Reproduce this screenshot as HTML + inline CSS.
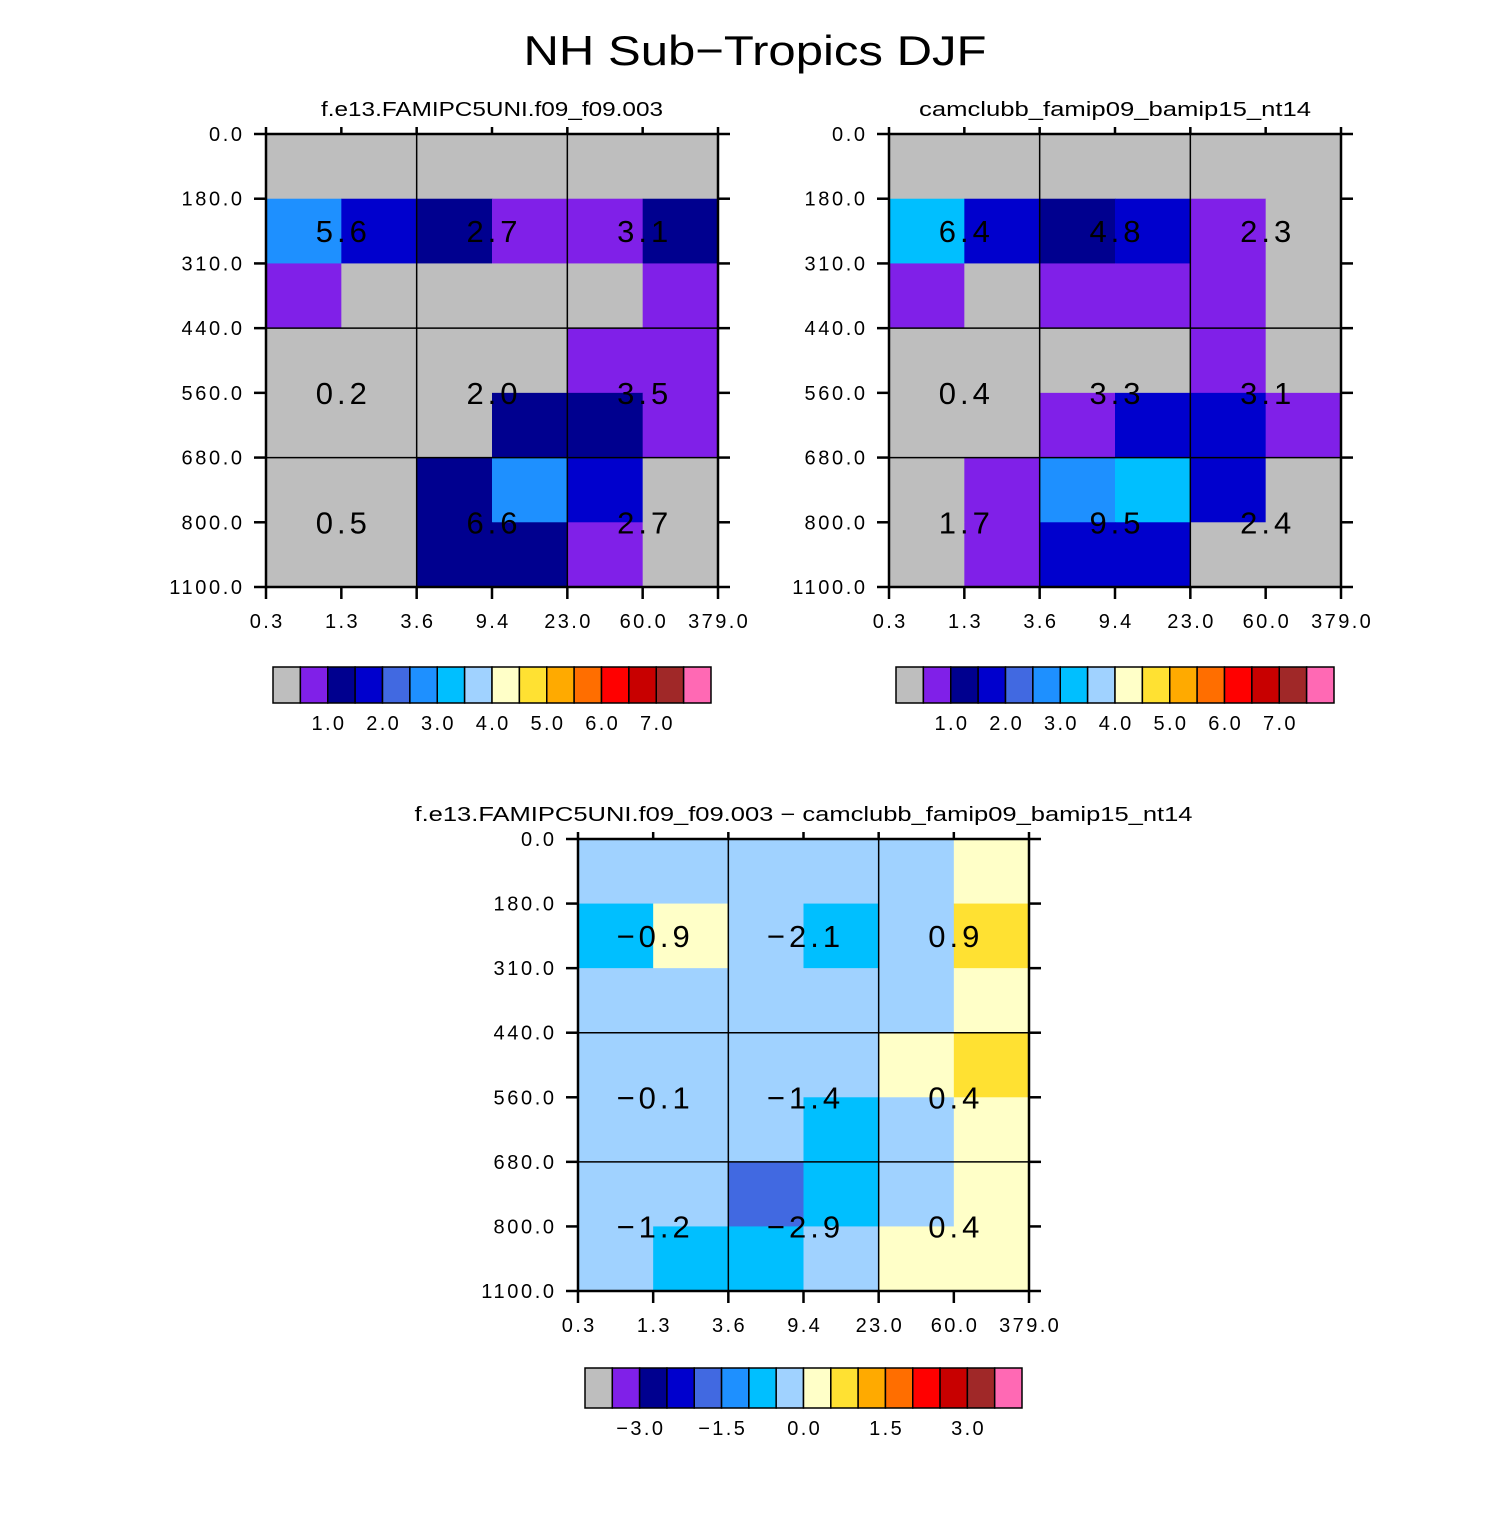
<!DOCTYPE html>
<html><head><meta charset="utf-8">
<style>
html,body{margin:0;padding:0;background:#fff;}
svg text{font-family:"Liberation Sans",sans-serif;}
</style></head>
<body>
<svg id="fig" width="1510" height="1510" viewBox="0 0 1510 1510" xmlns="http://www.w3.org/2000/svg">
<rect width="1510" height="1510" fill="#fff"/>
<text x="755" y="65" font-size="42" text-anchor="middle" fill="#000" textLength="463" lengthAdjust="spacingAndGlyphs">NH Sub−Tropics DJF</text>
</svg>
<script>
const palette = ["#BEBEBE","#8020E8","#00008F","#0000CD","#4169E1","#1E90FF","#00BFFF","#A0D2FF","#FFFFC8","#FFE132","#FFAA00","#FF6E00","#FF0000","#C80000","#A02828","#FF69B4"];
const xTicks = ["0.3","1.3","3.6","9.4","23.0","60.0","379.0"];
const yTicks = ["0.0","180.0","310.0","440.0","560.0","680.0","800.0","1100.0"];
const cells1 = [
 [0,0,0,0,0,0],
 [5,3,2,1,1,2],
 [1,0,0,0,0,1],
 [0,0,0,0,1,1],
 [0,0,0,2,2,1],
 [0,0,2,5,3,0],
 [0,0,2,2,1,0]];
const cells2 = [
 [0,0,0,0,0,0],
 [6,3,2,3,1,0],
 [1,0,1,1,1,0],
 [0,0,0,0,1,0],
 [0,0,1,3,3,1],
 [0,1,5,6,3,0],
 [0,1,3,3,0,0]];
const cells3 = [
 [7,7,7,7,7,8],
 [6,8,7,6,7,9],
 [7,7,7,7,7,8],
 [7,7,7,7,8,9],
 [7,7,7,6,7,8],
 [7,7,4,6,7,8],
 [7,6,6,7,8,8]];
const vals1 = ["5.6","2.7","3.1","0.2","2.0","3.5","0.5","6.6","2.7"];
const vals2 = ["6.4","4.8","2.3","0.4","3.3","3.1","1.7","9.5","2.4"];
const vals3 = ["−0.9","−2.1","0.9","−0.1","−1.4","0.4","−1.2","−2.9","0.4"];
const cbLabels1 = ["1.0","2.0","3.0","4.0","5.0","6.0","7.0"];
const cbLabels3 = ["−3.0","−1.5","0.0","1.5","3.0"];

const svg = document.getElementById('fig');
const NS = "http://www.w3.org/2000/svg";
function mk(tag, attrs, parent){
  const e = document.createElementNS(NS, tag);
  for (const k in attrs) e.setAttribute(k, attrs[k]);
  (parent||svg).appendChild(e); return e;
}
function panel(x0,y0,W,H,cells,vals,sub,subLen,name){
  const g = mk('g',{});
  
  
  const cw = W/6, rh = H/7;
  const xs = i => x0 + i*cw, ys = j => y0 + j*rh;
  cells.forEach((row,j)=>row.forEach((c,i)=>{
    const r = mk('rect',{x:xs(i),y:ys(j),width:cw+0.5,height:rh+0.5,fill:palette[c]},g);
    
    
  }));
  [2,4].forEach(i=>mk('line',{x1:xs(i),y1:y0,x2:xs(i),y2:y0+H,stroke:'#000','stroke-width':1.5},g));
  [3,5].forEach(j=>mk('line',{x1:x0-12,y1:ys(j),x2:x0+W+12,y2:ys(j),stroke:'#000','stroke-width':1.5},g));
  mk('rect',{x:x0,y:y0,width:W,height:H,fill:'none',stroke:'#000','stroke-width':2.5},g);
  xTicks.forEach((t,i)=>{
    mk('line',{x1:xs(i),y1:y0+H,x2:xs(i),y2:y0+H+12,stroke:'#000','stroke-width':2.5},g);
    mk('line',{x1:xs(i),y1:y0,x2:xs(i),y2:y0-7,stroke:'#000','stroke-width':2.5},g);
    const tx = mk('text',{x:xs(i)+1.2,y:y0+H+41,'font-size':20,'letter-spacing':2.4,'text-anchor':'middle'},g);
    
    
    tx.textContent = t;
  });
  yTicks.forEach((t,j)=>{
    mk('line',{x1:x0-12,y1:ys(j),x2:x0,y2:ys(j),stroke:'#000','stroke-width':2.5},g);
    mk('line',{x1:x0+W,y1:ys(j),x2:x0+W+12,y2:ys(j),stroke:'#000','stroke-width':2.5},g);
    const ty = mk('text',{x:x0-24+2.6,y:ys(j)+7,'font-size':20,'letter-spacing':2.6,'text-anchor':'end'},g);
    
    
    ty.textContent = t;
  });
  const rowC = [(ys(1)+ys(2))/2, ys(4), ys(6)];
  vals.forEach((v,k)=>{
    const r = Math.floor(k/3), c = k%3;
    const tv = mk('text',{x:xs(1+2*c)+2,y:rowC[r]+11,'font-size':31,'letter-spacing':4,'text-anchor':'middle'},g);
    
    
    tv.textContent = v;
  });
  const st = mk('text',{x:x0+W/2,y:y0-18,'font-size':20,'text-anchor':'middle',textLength:subLen,lengthAdjust:'spacingAndGlyphs'},g);
  
  
  st.textContent = sub;
}
function colorbar(x0,y0,W,H,labels,step,first,name){
  const g = mk('g',{});
  
  
  const bw = W/palette.length;
  palette.forEach((c,i)=>{
    const r = mk('rect',{x:x0+i*bw,y:y0,width:bw,height:H,fill:c,stroke:'#000','stroke-width':1.5},g);
    
    
  });
  labels.forEach((l,k)=>{
    const t = mk('text',{x:x0+(first+k*step)*bw+1.2,y:y0+H+27,'font-size':20,'letter-spacing':2.4,'text-anchor':'middle'},g);
    
    
    t.textContent = l;
  });
}
panel(266,134,452,453,cells1,vals1,"f.e13.FAMIPC5UNI.f09_f09.003",342,"panel-model-1");
panel(889,134,452,453,cells2,vals2,"camclubb_famip09_bamip15_nt14",392,"panel-model-2");
panel(578,839,451,452,cells3,vals3,"f.e13.FAMIPC5UNI.f09_f09.003 − camclubb_famip09_bamip15_nt14",778,"panel-difference");
colorbar(273,667,438,36,cbLabels1,2,2,"colorbar-1");
colorbar(896,667,438,36,cbLabels1,2,2,"colorbar-2");
colorbar(585,1368,437,40,cbLabels3,3,2,"colorbar-difference");
</script>
</body></html>
